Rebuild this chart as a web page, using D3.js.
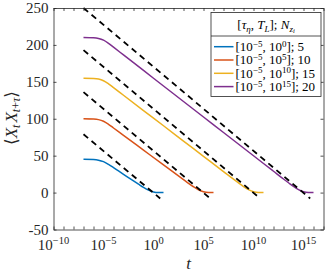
<!DOCTYPE html>
<html><head><meta charset="utf-8">
<script src="https://cdn.jsdelivr.net/npm/d3@7"></script>
<style>body{margin:0;background:#fff}svg{display:block}</style>
</head><body>
<svg id="chart" width="326" height="273"></svg>
<script>
// ---- data (exponents of t, correlation values) ----
const blueExp   = [-7,-6,-5.5,-5,-4.5,-4,-3.5,-3,-2,-1.5,-1,-0.5,0,0.5,1];
const blueVal   = [45,44.7,43.9,41.9,38.2,33.8,29.3,24.8,15.8,11.4,7.1,3.4,0.9,0.05,0];
const orangeExp = [-7,-6,-5.5,-5,-4.5,-4,-3,-1,1,3,3.5,4,4.5,5,5.5,6];
const orangeVal = [100,99.6,98.8,96.6,92.5,87.5,77.5,57.5,37.5,17.6,12.6,7.9,3.8,1.0,0.05,0];
const yellowExp = [-7,-6,-5.5,-5,-4.5,-4,-3,-1,1,3,5,7,8,8.5,9,9.5,10,10.5,11];
const yellowVal = [155,154.6,153.8,151.5,147.3,142.2,131.8,111.1,90.5,69.8,49.1,28.4,18.1,13.1,8.2,3.9,1.0,0.05,0];
const purpleExp = [-7,-6,-5.5,-5,-4.5,-4,-3,-1,1,3,5,7,9,11,12,13,13.5,14,14.5,15,15.5,16];
const purpleVal = [210,209.6,208.7,206.4,202.1,196.9,186.4,165.4,144.4,123.4,102.4,81.4,60.4,39.4,28.9,18.4,13.3,8.3,4.0,1.0,0.05,0];

// dashed asymptotes: start (t=1e-7) and end points
const dashStartExp = [-7,-7,-7,-7];
const dashStartVal = [79,136,193,250];
const dashEndExp   = [0.67,5.67,10.67,15.67];
const dashEndVal   = [-8,-8,-8,-8];

const seriesColors = ["#0072BD","#D95319","#EDB120","#7E2F8E"];
const legendTL  = ["0","5","10","15"];
const legendN   = ["5","10","15","20"];

const xMinorExp = [-10,-9,-8,-7,-6,-5,-4,-3,-2,-1,0,1,2,3,4,5,6,7,8,9,10,11,12,13,14,15,16,17];
const xLabelExp = [-10,-5,0,5,10,15];
const yTicks    = [-50,0,50,100,150,200,250];

// ---- layout ----
const svg = d3.select("#chart");
const L = 53.5, R = 323.5, T = 8, B = 229.5;
const x = d3.scaleLog().domain([1e-10, 1e17]).range([L, R]);
const y = d3.scaleLinear().domain([-50, 250]).range([B, T]);
const serif = "'Liberation Serif','DejaVu Serif',serif";
const axisColor = "#262626";

// curves
const series = [
  [blueExp, blueVal], [orangeExp, orangeVal], [yellowExp, yellowVal], [purpleExp, purpleVal]
];
const line = d3.line().x(d => x(Math.pow(10, d[0]))).y(d => y(d[1])).curve(d3.curveMonotoneX);
const plot = svg.append("g");
series.forEach(([ex, vals], i) => {
  plot.append("path")
    .datum(ex.map((e, j) => [e, vals[j]]))
    .attr("d", line).attr("fill", "none")
    .attr("stroke", seriesColors[i]).attr("stroke-width", 1.5);
});
// dashed lines
dashStartExp.forEach((e, i) => {
  plot.append("path")
    .datum([[e, dashStartVal[i]], [dashEndExp[i], dashEndVal[i]]])
    .attr("d", d3.line().x(d => x(Math.pow(10, d[0]))).y(d => y(d[1])))
    .attr("fill", "none").attr("stroke", "#000").attr("stroke-width", 1.8)
    .attr("stroke-dasharray", "6,4.5");
});

// axes
const xt = xMinorExp.map(e => Math.pow(10, e));
function styleAxis(g) {
  g.selectAll("path,line").attr("stroke", axisColor).attr("stroke-width", 0.8);
  g.selectAll("text").remove();
}
svg.append("g").attr("transform", `translate(0,${B})`)
  .call(d3.axisBottom(x).tickValues(xt).tickSizeInner(-3).tickSizeOuter(0).tickFormat(() => "")).call(styleAxis);
svg.append("g").attr("transform", `translate(0,${T})`)
  .call(d3.axisTop(x).tickValues(xt).tickSizeInner(-3).tickSizeOuter(0).tickFormat(() => "")).call(styleAxis);
svg.append("g").attr("transform", `translate(${L},0)`)
  .call(d3.axisLeft(y).tickValues(yTicks).tickSizeInner(-3).tickSizeOuter(0).tickFormat(() => "")).call(styleAxis);
svg.append("g").attr("transform", `translate(${R},0)`)
  .call(d3.axisRight(y).tickValues(yTicks).tickSizeInner(-3).tickSizeOuter(0).tickFormat(() => "")).call(styleAxis);

// y tick labels
svg.append("g").selectAll("text").data(yTicks).join("text")
  .attr("x", L - 5).attr("y", d => y(d)).attr("dy", "0.34em")
  .attr("text-anchor", "end").attr("font-family", serif).attr("font-size", 15)
  .attr("fill", axisColor).text(d => d);

// x tick labels with superscripts
const sup = e => (e < 0 ? "\u2212" + Math.abs(e) : String(e));
xLabelExp.forEach(e => {
  const t = svg.append("text").attr("x", x(Math.pow(10, e))).attr("y", 250)
    .attr("text-anchor", "middle").attr("font-family", serif).attr("font-size", 15)
    .attr("fill", axisColor);
  t.append("tspan").text("10");
  t.append("tspan").attr("dy", -6).attr("font-size", 10.5).text(sup(e));
});

// axis titles
svg.append("text").attr("x", (L + R) / 2).attr("y", 269).attr("text-anchor", "middle")
  .attr("font-family", serif).attr("font-size", 17).attr("font-style", "italic")
  .attr("fill", axisColor).text("t");

const yl = svg.append("text").attr("transform", `translate(17,118) rotate(-90)`)
  .attr("text-anchor", "middle").attr("font-family", serif).attr("font-size", 17)
  .attr("fill", axisColor);
yl.append("tspan").text("\u27E8");
yl.append("tspan").attr("font-style", "italic").text("X");
yl.append("tspan").attr("font-style", "italic").attr("font-size", 12).attr("dy", 3).text("t");
yl.append("tspan").attr("font-style", "italic").attr("dy", -3).attr("dx", 2).text("X");
yl.append("tspan").attr("font-size", 12).attr("dy", 3).html("<tspan font-style='italic'>t</tspan>+<tspan font-style='italic'>\u03C4</tspan>");
yl.append("tspan").attr("dy", -3).text("\u27E9");

// legend
const lg = svg.append("g");
const lx0 = 211, lx1 = 321, ly0 = 12.5, ly1 = 96.5;
lg.append("rect").attr("x", lx0).attr("y", ly0).attr("width", lx1 - lx0).attr("height", ly1 - ly0)
  .attr("fill", "#fff").attr("stroke", axisColor).attr("stroke-width", 0.8);
lg.append("line").attr("x1", lx0).attr("x2", lx1).attr("y1", 36).attr("y2", 36)
  .attr("stroke", axisColor).attr("stroke-width", 0.8);
const title = lg.append("text").attr("x", (lx0 + lx1) / 2).attr("y", 29).attr("text-anchor", "middle")
  .attr("font-family", serif).attr("font-size", 13).attr("fill", "#000");
title.append("tspan").text("[");
title.append("tspan").attr("font-style", "italic").text("\u03C4");
title.append("tspan").attr("font-style", "italic").attr("font-size", 9).attr("dy", 2.5).text("\u03B7");
title.append("tspan").attr("dy", -2.5).text(", ");
title.append("tspan").attr("font-style", "italic").text("T");
title.append("tspan").attr("font-style", "italic").attr("font-size", 9).attr("dy", 2.5).text("L");
title.append("tspan").attr("dy", -2.5).text("]; ");
title.append("tspan").attr("font-style", "italic").text("N");
title.append("tspan").attr("font-style", "italic").attr("font-size", 9).attr("dy", 2.5).text("z");
title.append("tspan").attr("font-style", "italic").attr("font-size", 6.5).attr("dy", 1.5).text("i");

const rowY = [46.7, 60, 73.3, 86.6];
seriesColors.forEach((c, i) => {
  lg.append("line").attr("x1", 214).attr("x2", 233.5).attr("y1", rowY[i]).attr("y2", rowY[i])
    .attr("stroke", c).attr("stroke-width", 1.5);
  const t = lg.append("text").attr("x", 235.5).attr("y", rowY[i]).attr("dy", "0.34em")
    .attr("font-family", serif).attr("font-size", 13).attr("fill", "#000");
  t.append("tspan").text("[10");
  t.append("tspan").attr("font-size", 9).attr("dy", -4.5).text("\u22125");
  t.append("tspan").attr("dy", 4.5).text(", 10");
  t.append("tspan").attr("font-size", 9).attr("dy", -4.5).text(legendTL[i]);
  t.append("tspan").attr("dy", 4.5).text("]; " + legendN[i]);
});
</script>
</body></html>
